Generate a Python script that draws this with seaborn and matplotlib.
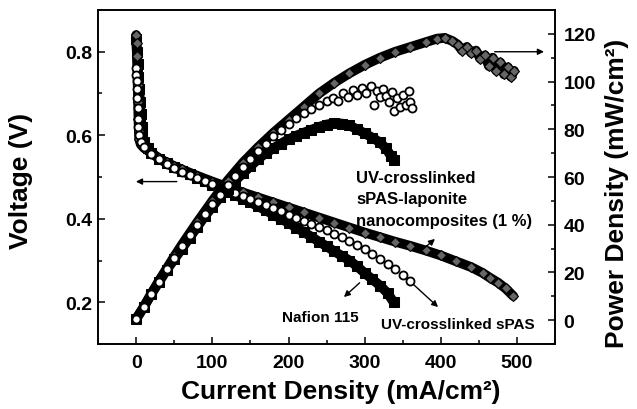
import matplotlib
matplotlib.use("Agg")
import matplotlib.pyplot as plt
import matplotlib.ticker as tkr
import pandas as pd
import seaborn as sns

# ---- data ----
# Nafion 115 : polarisation curve (current mA/cm2, voltage V)
naf_i = [0, 1, 2, 3, 4, 5, 6, 7, 8, 10, 15, 20, 30, 40, 50, 60, 70, 80, 90, 100,
         110, 120, 130, 140, 150, 160, 170, 180, 190, 200, 210, 220, 230, 240,
         250, 260, 270, 280, 290, 300, 310, 320, 330, 338]
naf_v = [0.83, 0.80, 0.77, 0.74, 0.71, 0.68, 0.65, 0.62, 0.60, 0.585, 0.57, 0.558,
         0.544, 0.533, 0.523, 0.514, 0.506, 0.498, 0.49, 0.482, 0.474, 0.465, 0.457,
         0.448, 0.439, 0.43, 0.42, 0.41, 0.40, 0.39, 0.379, 0.368, 0.357, 0.345,
         0.334, 0.322, 0.311, 0.30, 0.286, 0.27, 0.255, 0.24, 0.222, 0.20]
# Nafion 115 : power density (current, mW/cm2)
naf_pi = [0, 10, 20, 30, 40, 50, 60, 70, 80, 90, 100, 110, 120, 130, 140, 150, 160,
          170, 180, 190, 200, 210, 220, 230, 240, 250, 260, 270, 280, 290, 300, 310,
          320, 328, 334, 338]
naf_p = [0.5, 5.5, 11, 16, 21, 25.5, 30, 34.5, 39, 43.5, 47.5, 51.5, 55, 58.5, 61.5,
         64.5, 67.5, 70, 72, 74, 75.8, 77.3, 78.6, 79.8, 81, 82, 82.6, 82.4, 81.6, 80,
         78.3, 76.5, 74.5, 72, 69, 67]

# UV-crosslinked sPAS
spas_i = [0, 0, 0.5, 1, 1.5, 2, 2.5, 3, 4, 6, 10, 20, 30, 40, 50, 60, 70, 80, 90, 100,
          110, 120, 130, 140, 150, 160, 170, 180, 190, 200, 210, 220, 230, 240, 250,
          260, 270, 280, 290, 300, 310, 320, 330, 340, 350, 360]
spas_v = [0.76, 0.745, 0.73, 0.71, 0.69, 0.665, 0.64, 0.62, 0.60, 0.585, 0.572, 0.556,
          0.543, 0.532, 0.522, 0.513, 0.505, 0.498, 0.49, 0.483, 0.476, 0.469, 0.462,
          0.455, 0.448, 0.44, 0.433, 0.426, 0.418, 0.41, 0.403, 0.395, 0.388, 0.38,
          0.372, 0.364, 0.356, 0.347, 0.337, 0.327, 0.316, 0.304, 0.292, 0.279, 0.265,
          0.25]
spas_pi = [0, 10, 20, 30, 40, 50, 60, 70, 80, 90, 100, 110, 120, 130, 140, 150, 160,
           170, 180, 190, 200, 210, 220, 230, 240, 250, 258, 265, 272, 278, 284, 290,
           296, 302, 308, 312, 316, 320, 324, 328, 332, 336, 338, 342, 346, 350, 354,
           358, 360, 362]
spas_p = [0.5, 5.5, 11, 16.2, 21.3, 26.2, 31, 35.5, 40, 44.3, 48.5, 52.5, 56.5, 60.5,
          64, 67.5, 71, 74, 77, 79.8, 82.3, 84.7, 86.8, 88.6, 90.2, 91.8, 93, 92, 95,
          93.5, 96.5, 94.5, 97.5, 95, 98, 90, 96, 93.5, 97, 94, 91.5, 95.5, 87.5, 93,
          89.5, 94.5, 90, 96, 91.5, 89]

# UV-crosslinked sPAS-laponite nanocomposites (1 %)
lap_i = [0, 0.5, 1, 1.5, 2, 2.5, 3, 3.5, 4, 6, 10, 20, 30, 40, 50, 60, 80, 100, 120,
         140, 160, 180, 200, 220, 240, 260, 280, 300, 320, 340, 360, 380, 400, 420,
         440, 455, 465, 475, 485, 495]
lap_v = [0.84, 0.82, 0.79, 0.76, 0.72, 0.68, 0.64, 0.61, 0.59, 0.578, 0.57, 0.557,
         0.545, 0.535, 0.526, 0.518, 0.503, 0.489, 0.476, 0.463, 0.451, 0.439, 0.427,
         0.415, 0.403, 0.391, 0.379, 0.367, 0.356, 0.345, 0.335, 0.324, 0.312, 0.298,
         0.284, 0.27, 0.258, 0.247, 0.233, 0.215]
lap_pi = [0, 10, 20, 30, 40, 50, 60, 80, 100, 120, 140, 160, 180, 200, 220, 240, 260,
          280, 300, 320, 340, 360, 380, 395, 405, 415, 422, 428, 434, 440, 446, 452,
          458, 463, 468, 473, 478, 483, 488, 492, 496]
lap_p = [0.5, 5.6, 11.2, 16.5, 21.6, 26.7, 31.6, 41, 50, 58.5, 66, 72.5, 78.5, 84,
         89.5, 95, 99.5, 103.5, 107, 110, 112.5, 114.5, 116.5, 118, 118.3, 117, 115.5,
         113, 114.5, 112, 113, 109.5, 111, 106.5, 110, 104.5, 108, 103, 106, 102, 104.5]

x_ticks = [0, 100, 200, 300, 400, 500]
v_ticks = [0.2, 0.4, 0.6, 0.8]
p_ticks = [0, 20, 40, 60, 80, 100, 120]


def frame(xs, ys):
    return pd.DataFrame({"i": xs, "y": ys})


def main():
    sns.set_style("ticks")
    plt.rcParams["font.family"] = ["Liberation Sans", "DejaVu Sans"]
    plt.rcParams["font.weight"] = "bold"
    plt.rcParams["axes.labelweight"] = "bold"
    for key in ("text.color", "axes.labelcolor", "xtick.color", "ytick.color",
                "axes.edgecolor"):
        plt.rcParams[key] = "black"

    fig = plt.figure(figsize=(6.37, 4.10), dpi=100)
    ax = fig.add_axes([0.154, 0.1585, 0.7175, 0.8147])
    ax2 = ax.twinx()

    line_kw = dict(estimator=None, sort=False, color="black", lw=7)
    circ_kw = dict(marker="o", ms=5.8, mfc="white", mec="black", mew=1.3, ls="none",
                   estimator=None, sort=False, zorder=4)

    # voltage curves (left axis)
    sns.lineplot(data=frame(naf_i, naf_v), x="i", y="y", ax=ax, marker="s", ms=6.5,
                 mfc="black", mec="black", zorder=2, **line_kw)
    sns.lineplot(data=frame(lap_i, lap_v), x="i", y="y", ax=ax, marker="D", ms=5.5,
                 mfc="0.4", mec="black", mew=0.8, zorder=3, **line_kw)
    sns.lineplot(data=frame(spas_i, spas_v), x="i", y="y", ax=ax, **circ_kw)

    # power curves (right axis)
    sns.lineplot(data=frame(naf_pi, naf_p), x="i", y="y", ax=ax2, marker="s", ms=6.5,
                 mfc="black", mec="black", zorder=2, **line_kw)
    sns.lineplot(data=frame(lap_pi, lap_p), x="i", y="y", ax=ax2, marker="D", ms=5.5,
                 mfc="0.4", mec="black", mew=0.8, zorder=3, **line_kw)
    sns.lineplot(data=frame(spas_pi, spas_p), x="i", y="y", ax=ax2, **circ_kw)

    # axes limits and ticks
    ax.set_xlim(-50, 550)
    ax.set_ylim(0.1, 0.9)
    ax2.set_ylim(-10, 130)
    ax.set_xticks(x_ticks)
    ax.set_yticks(v_ticks)
    ax2.set_yticks(p_ticks)
    ax.xaxis.set_minor_locator(tkr.MultipleLocator(50))
    ax.yaxis.set_minor_locator(tkr.MultipleLocator(0.1))
    ax2.yaxis.set_minor_locator(tkr.MultipleLocator(10))
    ax.yaxis.set_major_formatter(tkr.FormatStrFormatter("%.1f"))

    for a in (ax, ax2):
        for s in a.spines.values():
            s.set_visible(True)
            s.set_linewidth(1.2)
            s.set_color("black")
        a.tick_params(which="major", direction="in", length=5, width=1.1,
                      labelsize=14, colors="black")
        a.tick_params(which="minor", direction="in", length=3, width=1.1,
                      colors="black")
    ax.tick_params(axis="x", which="major", pad=7)
    ax.tick_params(axis="y", which="major", pad=4)
    ax2.tick_params(axis="y", which="major", pad=6)
    for lab in ax.get_xticklabels() + ax.get_yticklabels() + ax2.get_yticklabels():
        lab.set_fontweight("bold")

    ax.set_xlabel("Current Density (mA/cm\u00b2)", fontsize=19, fontweight="bold")
    ax.set_ylabel("Voltage (V)", fontsize=19, fontweight="bold")
    ax2.set_ylabel("Power Density (mW/cm\u00b2)", fontsize=19, fontweight="bold")
    ax.xaxis.set_label_coords(0.53, -0.105)
    ax.yaxis.set_label_coords(-0.142, 0.49)
    ax2.yaxis.set_label_coords(1.108, 0.455)

    # annotations
    arrow = dict(arrowstyle="-|>", color="black", lw=1, mutation_scale=9)
    ax.annotate("", xy=(-4, 0.489), xytext=(57, 0.489), arrowprops=arrow)
    ax.annotate("", xy=(539, 0.8), xytext=(467, 0.8), arrowprops=arrow)
    ax.annotate("", xy=(270, 0.208), xytext=(296, 0.251), arrowprops=arrow)
    ax.annotate("", xy=(399, 0.184), xytext=(359, 0.251), arrowprops=arrow)
    ax.annotate("", xy=(395, 0.356), xytext=(372, 0.32), arrowprops=arrow)

    ax.text(191, 0.165, "Nafion 115", fontsize=11, fontweight="bold", va="center")
    ax.text(322, 0.149, "UV-crosslinked sPAS", fontsize=11, fontweight="bold",
            va="center")
    ax.text(289, 0.448, "UV-crosslinked\nsPAS-laponite\nnanocomposites (1 %)",
            fontsize=12, fontweight="bold", va="center", linespacing=1.55)

    fig.savefig("out.png", dpi=100)


if __name__ == "__main__":
    main()
